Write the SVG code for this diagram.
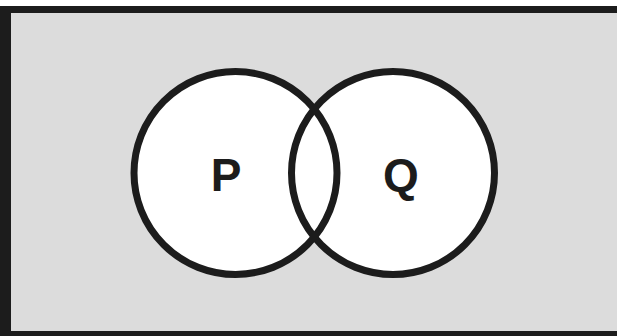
<svg xmlns="http://www.w3.org/2000/svg" width="617" height="336" viewBox="0 0 617 336">
<style>
.fill{fill:#ffffff;stroke:none}
.ring{fill:none;stroke:#1c1c1c;stroke-width:7}
.lbl{font-family:"Liberation Sans",Arial,sans-serif;font-weight:bold;font-size:46px;fill:#1c1c1c;text-anchor:middle}
</style>
<rect x="0" y="0" width="617" height="336" fill="#ffffff"/>
<g id="universe">
<rect x="0" y="6" width="617" height="330" fill="#1c1c1c"/>
<rect x="11" y="13" width="606" height="318" fill="#dcdcdc"/>
</g>
<g id="setP">
<circle class="fill" cx="235.5" cy="173" r="101.5"/>
<text class="lbl" x="226" y="190.5">P</text>
</g>
<g id="setQ">
<circle class="fill" cx="393" cy="173" r="101.5"/>
<text class="lbl" x="401" y="190.5">Q</text>
</g>
<g id="outlines">
<circle class="ring" cx="235.5" cy="173" r="101.5"/>
<circle class="ring" cx="393" cy="173" r="101.5"/>
</g>
</svg>
